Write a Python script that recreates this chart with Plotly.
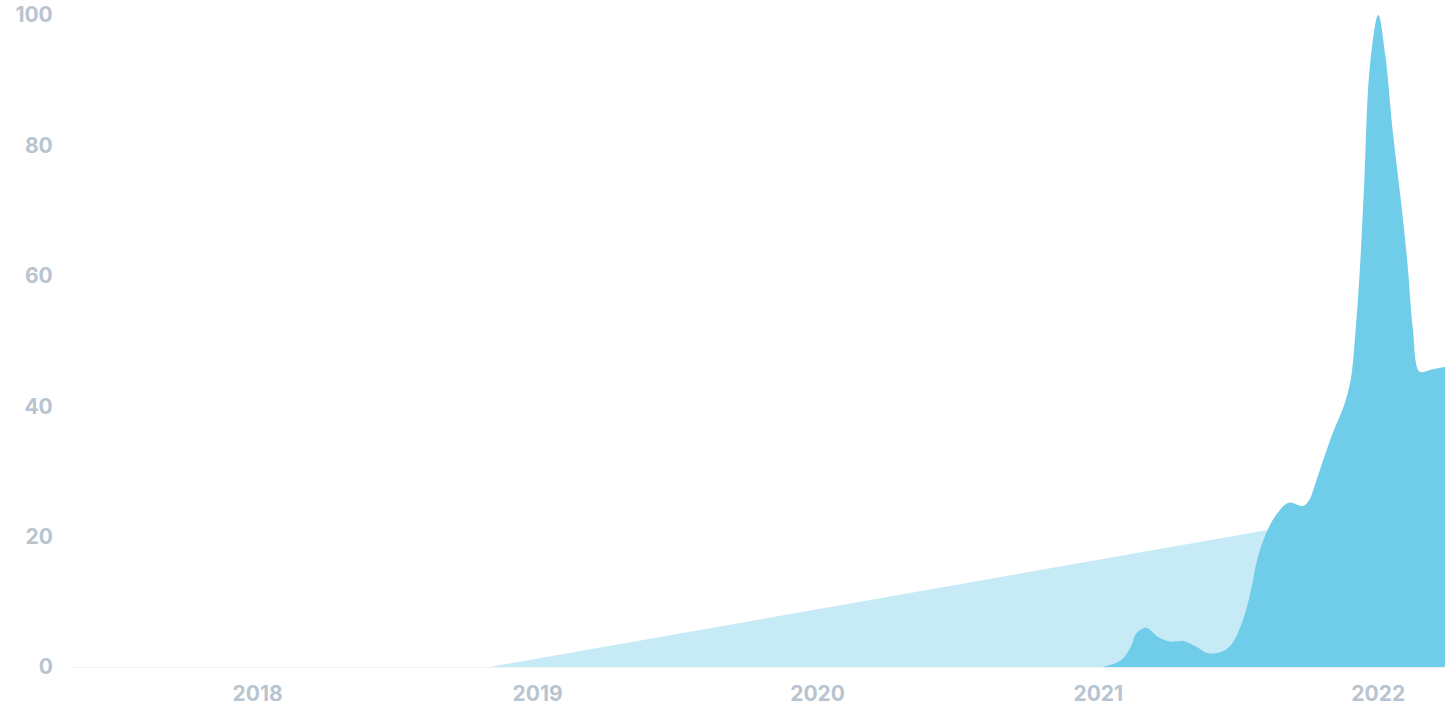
import plotly.graph_objects as go

# Trend (light) series
trend_dates = ["2017-05-04", "2018-10-30", "2022-03-29"]
trend_values = [0, 0, 25.8]

# Interest (dark) series
interest_dates = [
    "2020-12-20", "2021-01-04", "2021-01-30", "2021-02-12", "2021-02-20", "2021-03-05",
    "2021-03-20", "2021-04-05", "2021-04-22", "2021-05-09", "2021-05-24", "2021-06-12",
    "2021-06-25", "2021-07-10", "2021-07-20", "2021-07-27", "2021-08-06", "2021-08-19",
    "2021-09-06", "2021-09-25", "2021-10-03", "2021-10-12", "2021-10-22", "2021-11-03",
    "2021-11-17", "2021-11-26", "2021-12-02", "2021-12-08", "2021-12-14", "2021-12-21",
    "2022-01-01", "2022-01-10", "2022-01-20", "2022-01-31", "2022-02-08", "2022-02-15",
    "2022-02-24", "2022-03-10", "2022-03-29",
]
interest_values = [
    0, 0, 1, 3, 5.2, 6,
    4.6, 3.9, 4.0, 3.1, 2.1, 2.4,
    3.7, 7.7, 12.3, 16.4, 20, 23,
    25.2, 24.7, 25.6, 28.5, 32, 36,
    40, 44, 51, 61, 75, 92,
    100, 94, 82, 71, 62, 52,
    45.3, 45.6, 46,
]

y_ticks = [0, 20, 40, 60, 80, 100]
x_ticks = ["2018-01-01", "2019-01-01", "2020-01-01", "2021-01-01", "2022-01-01"]
x_labels = ["2018", "2019", "2020", "2021", "2022"]

fig = go.Figure()
fig.add_trace(go.Scatter(
    x=trend_dates, y=trend_values, mode="lines", fill="tozeroy",
    line=dict(width=0, color="#c7eaf7"), fillcolor="#c7eaf7", hoverinfo="skip",
))
fig.add_trace(go.Scatter(
    x=interest_dates, y=interest_values, mode="lines", fill="tozeroy",
    line=dict(width=0, color="#70cde9", shape="spline", smoothing=1),
    fillcolor="#70cde9", hoverinfo="skip",
))

tick_font = dict(family="Inter, 'Open Sans', sans-serif", size=21, color="#b8c4d0", weight=700)

fig.update_layout(
    width=1450, height=725,
    margin=dict(l=72, r=5, t=15, b=58),
    paper_bgcolor="white", plot_bgcolor="white",
    showlegend=False,
    xaxis=dict(
        type="date", range=["2017-05-04", "2022-03-29"],
        tickvals=x_ticks, ticktext=x_labels,
        showgrid=False, zeroline=False, automargin=False,
        showline=True, linecolor="#f0f2f4", linewidth=1, layer="below traces",
        ticks="outside", ticklen=8, tickcolor="rgba(0,0,0,0)",
        tickfont=tick_font,
    ),
    yaxis=dict(
        range=[0, 100], tickvals=y_ticks, automargin=False,
        showgrid=False, zeroline=False, showline=False,
        ticks="outside", ticklen=14, tickcolor="rgba(0,0,0,0)",
        tickfont=tick_font, ticklabeloverflow="allow",
    ),
)

fig.write_html(
    "out.html",
    config={"displayModeBar": False},
    post_script="document.body.style.margin='0'; document.body.style.overflow='hidden';",
)
